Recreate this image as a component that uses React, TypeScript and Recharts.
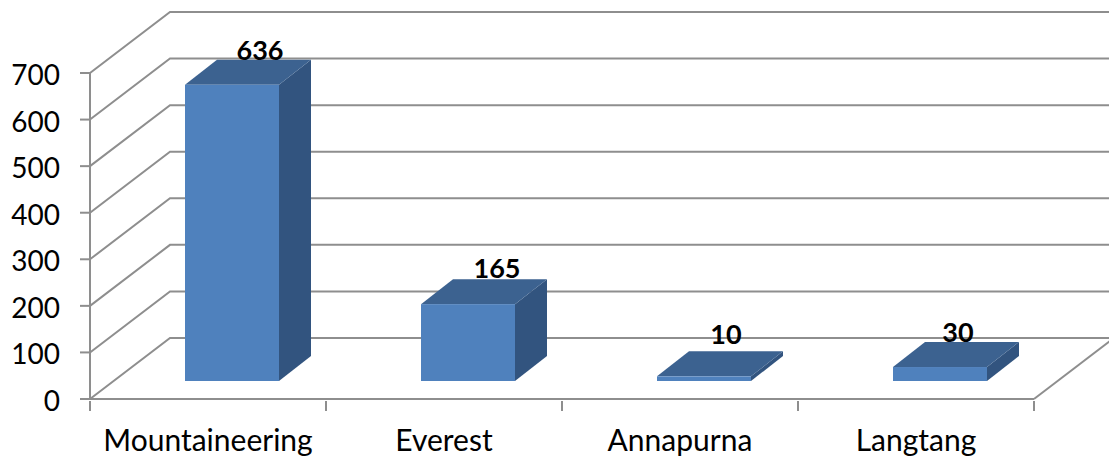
import { Bar, BarChart, CartesianGrid, LabelList, XAxis, YAxis } from "recharts";

const CATEGORIES = ["Mountaineering", "Everest", "Annapurna", "Langtang"];
const TREKKERS = [636, 165, 10, 30];
const Y_TICKS = [0, 100, 200, 300, 400, 500, 600, 700];

const rows = CATEGORIES.map((name, i) => ({ name, value: TREKKERS[i] }));

const WIDTH = 1109;
const HEIGHT = 457;
const PLOT_LEFT = 90;
const PLOT_RIGHT = 1034;
const BAND = (PLOT_RIGHT - PLOT_LEFT) / CATEGORIES.length;

// fake perspective: how far the back wall and the bars sit from the front plane
const WALL_DX = 80;
const WALL_DY = 61;
const BAR_SHIFT_X = 24;
const BAR_SHIFT_Y = 18;
const BAR_DX = 32;
const BAR_DY = 25;

const LINE = "#8e8e8e";
const FONT = "Lato, sans-serif";

function pts(list: number[][]) {
  return list.map((p) => p.join(",")).join(" ");
}

function GridLine(props: any) {
  const { x1, x2, y1 } = props;
  const backY = y1 - WALL_DY;
  const isFloor = Math.abs(y1 - (HEIGHT - 58)) < 1;
  return (
    <g fill="none" stroke={LINE} strokeWidth={2}>
      <polyline points={pts([[x1, y1], [x1 + WALL_DX, backY], [x2 + WALL_DX, backY]])} />
      {isFloor && <line x1={x2} y1={y1} x2={x2 + WALL_DX} y2={backY} />}
    </g>
  );
}

function Bar3D(props: any) {
  const { x, y, width, height } = props;
  const left = x + BAR_SHIFT_X;
  const right = left + width;
  const top = y - BAR_SHIFT_Y;
  const bottom = y + height - BAR_SHIFT_Y;
  return (
    <g>
      <polygon
        points={pts([[right, top], [right + BAR_DX, top - BAR_DY], [right + BAR_DX, bottom - BAR_DY], [right, bottom]])}
        fill="#32547f"
      />
      <polygon
        points={pts([[left, top], [left + BAR_DX, top - BAR_DY], [right + BAR_DX, top - BAR_DY], [right, top]])}
        fill="#3c6290"
      />
      <rect x={left} y={top} width={width} height={height} fill="#4f81bd" />
    </g>
  );
}

function CategoryTick(props: any) {
  const { x, y, payload, index } = props;
  const isLast = index === CATEGORIES.length - 1;
  return (
    <g>
      <line x1={x - BAND / 2} y1={y} x2={x - BAND / 2} y2={y + 10} stroke={LINE} strokeWidth={2} />
      {isLast && <line x1={x + BAND / 2} y1={y} x2={x + BAND / 2} y2={y + 10} stroke={LINE} strokeWidth={2} />}
      <text x={x} y={y + 50} textAnchor="middle" fontFamily={FONT} fontSize={30} fill="#000">
        {payload.value}
      </text>
    </g>
  );
}

function ValueLabel(props: any) {
  const { x, y, width, value, index } = props;
  const nudges = [28, 29, 22, 18];
  const rises = [43, 44, 50, 43];
  return (
    <text
      x={x + width / 2 + BAR_SHIFT_X + nudges[index]}
      y={y - rises[index]}
      textAnchor="middle"
      fontFamily={FONT}
      fontSize={27}
      fontWeight={700}
      fill="#000"
    >
      {value}
    </text>
  );
}

export default function App() {
  return (
    <div style={{ position: "absolute", left: 0, top: 0, width: WIDTH, height: HEIGHT, background: "#fff" }}>
      <BarChart
        width={WIDTH}
        height={HEIGHT}
        data={rows}
        barCategoryGap={0}
        margin={{ top: 73, right: WIDTH - PLOT_RIGHT, bottom: 0, left: 0 }}
      >
        <CartesianGrid vertical={false} horizontal={GridLine} />
        <XAxis
          dataKey="name"
          height={58}
          axisLine={{ stroke: LINE, strokeWidth: 2 }}
          tickLine={false}
          tickSize={0}
          tick={CategoryTick}
          interval={0}
        />
        <YAxis
          width={PLOT_LEFT}
          domain={[0, 700]}
          ticks={Y_TICKS}
          interval={0}
          axisLine={{ stroke: LINE, strokeWidth: 2 }}
          tickLine={{ stroke: LINE, strokeWidth: 2 }}
          tickSize={10}
          tickMargin={20}
          tick={{ fontFamily: FONT, fontSize: 28, fill: "#000", dy: 2 }}
        />
        <Bar dataKey="value" barSize={94} shape={Bar3D} isAnimationActive={false}>
          <LabelList dataKey="value" content={ValueLabel} />
        </Bar>
      </BarChart>
    </div>
  );
}
